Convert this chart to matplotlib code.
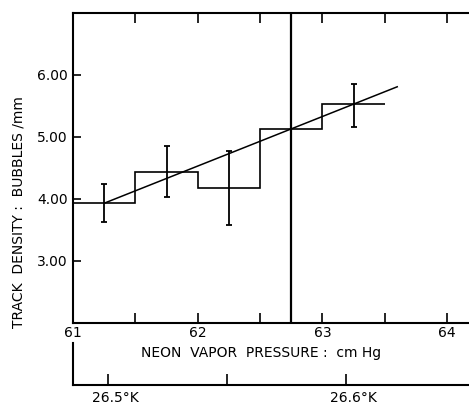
import matplotlib.pyplot as plt
import matplotlib.transforms as mtransforms
import numpy as np

plt.rcParams['font.family'] = ['DejaVu Sans']

# histogram steps (track density per pressure bin)
bordes = [61.0, 61.5, 62.0, 62.5, 63.0, 63.5]
densidad = [3.94, 4.44, 4.18, 5.13, 5.53]

# error bars
err_x = [61.25, 61.75, 62.25, 63.25]
err_y = [3.94, 4.44, 4.18, 5.51]
err_bajo = [3.63, 4.03, 3.58, 5.16]
err_alto = [4.24, 4.86, 4.77, 5.86]

# fitted line endpoints
ajuste_x = [61.26, 63.6]
ajuste_y = [3.94, 5.81]

linea_vertical = 62.75

y_ticks = [3, 4, 5, 6]
y_labels = ['3.00', '4.00', '5.00', '6.00']
x_ticks = [61, 62, 63, 64]
x_minor = [61.5, 62.5, 63.5]

temp_ticks = [26.5, 26.55, 26.6]
temp_labels = ['26.5°K', '', '26.6°K']

fig = plt.figure(figsize=(4.69, 4.09), dpi=100)
W, H = 469, 409
ax = fig.add_axes([73 / W, 1 - 323 / H, 396 / W, 310 / H])

ax.stairs(densidad, bordes, color='black', lw=1.2, baseline=None)
y = np.array(err_y)
ax.errorbar(err_x, y, yerr=[y - np.array(err_bajo), np.array(err_alto) - y],
            fmt='none', ecolor='black', elinewidth=1.3, capsize=2.5, capthick=1.3)
ax.plot(ajuste_x, ajuste_y, color='black', lw=1.1)
ax.axvline(linea_vertical, color='black', lw=1.6)

ax.set_xlim(61, 61 + 396 / 124.7)
ax.set_ylim(2.0, 7.0)
ax.spines['right'].set_visible(False)
for s in ['left', 'top', 'bottom']:
    ax.spines[s].set_linewidth(1.5)

ax.set_yticks(y_ticks)
ax.set_yticklabels(y_labels, fontsize=10)
ax.set_xticks(x_ticks)
ax.set_xticklabels([str(t) for t in x_ticks], fontsize=10)
ax.set_xticks(x_minor, minor=True)
ax.tick_params(axis='y', direction='in', length=6, width=1.2, pad=4)
ax.tick_params(axis='x', which='both', direction='in', length=7, width=1.2,
               pad=2, top=True)
ax.tick_params(axis='x', which='minor', labelbottom=False)

fig.text(19 / W, 1 - 212 / H, 'TRACK  DENSITY :  BUBBLES /mm', fontsize=10,
         rotation=90, ha='center', va='center')
fig.text(261 / W, 1 - 353 / H, 'NEON  VAPOR  PRESSURE :  cm Hg', fontsize=10,
         ha='center', va='center')

# temperature scale below
ax2 = fig.add_axes([73 / W, 1 - 385 / H, 396 / W, 42 / H])
ax2.set_xlim(26.5 - 35 / 2380, 26.6 + 123 / 2380)
ax2.set_ylim(0, 1)
ax2.patch.set_visible(False)
for s in ['right', 'top']:
    ax2.spines[s].set_visible(False)
for s in ['left', 'bottom']:
    ax2.spines[s].set_linewidth(1.5)
ax2.set_yticks([])
ax2.set_xticks(temp_ticks)
ax2.set_xticklabels(temp_labels, fontsize=10)
ax2.tick_params(axis='x', direction='in', length=8, width=1.2, pad=4)
desplazar = mtransforms.ScaledTranslation(7 / 100, 0, fig.dpi_scale_trans)
for lab in ax2.get_xticklabels():
    lab.set_transform(lab.get_transform() + desplazar)

fig.savefig('out.png', dpi=100)
